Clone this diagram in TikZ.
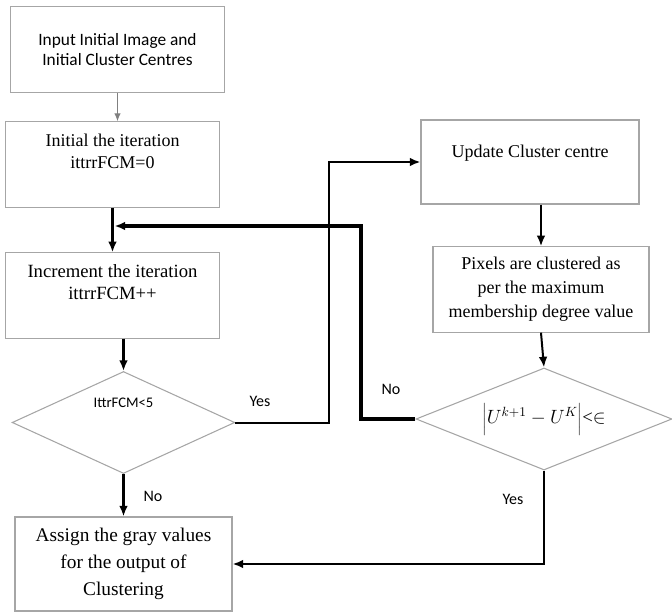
\documentclass[tikz,border=0pt]{standalone}
\usepackage{fontspec}
\setmainfont{Liberation Serif}
\setsansfont{Carlito}
\usetikzlibrary{shapes.geometric,arrows.meta}
\tikzset{
  box/.style={draw=gray!70, line width=0.8pt, minimum width=161pt, minimum height=64pt,
    align=center, font=\fontsize{13.5}{16}\selectfont},
  decision/.style={diamond, draw=gray!70, line width=0.8pt, shape aspect=2.2, inner sep=1pt},
  flow/.style={line width=1.5pt, -{Latex[length=8pt,width=6.5pt]}},
  heavy/.style={flow, line width=2.3pt},
  lbl/.style={font=\sffamily\fontsize{12}{14}\selectfont}
}
\begin{document}
\begin{tikzpicture}[x=0.75pt,y=-0.75pt]
\useasboundingbox (0,0) rectangle (672,613);
% boxes, edit here for the steps
\node[box, font=\sffamily\fontsize{13}{15}\selectfont] (input) at (117.5,49.5) {Input Initial Image and\\Initial Cluster Centres};
\node[box, text depth=20pt] (init) at (112.5,164.5) {Initial the iteration\\ittrrFCM=0};
\node[box, font=\fontsize{14}{16.5}\selectfont, text depth=20pt] (incr) at (112.5,295.5) {Increment the iteration\\ittrrFCM++};
\node[decision, minimum width=167pt, minimum height=76.5pt, font=\sffamily\fontsize{11}{13}\selectfont, text depth=30pt] (check) at (123.5,422.5) {IttrFCM<5};
\node[box, minimum width=163.5pt, minimum height=63pt, text depth=16pt] (update) at (530,162) {Update Cluster centre};
\node[box, minimum width=162pt, font=\fontsize{13.5}{18}\selectfont] (pixels) at (541,289.5) {Pixels are clustered as\\per the maximum\\membership degree value};
\node[decision, minimum width=192pt, minimum height=76.5pt, font=\fontsize{14}{16}\selectfont] (conv) at (544,419) {$\bigg|U^{k+1}-U^{K}\bigg|$<$\in$};
\node[box, minimum width=162.75pt, minimum height=70.5pt, font=\fontsize{14.5}{20}\selectfont] (output) at (123.5,564) {Assign the gray values\\for the output of\\Clustering};
% corners of the loops
\coordinate (yesx) at (329,0);
\coordinate (nox) at (361,226);
% connectors
\draw[gray, line width=1pt, -{Latex[length=6pt,width=5pt]}] (input.south) -- (input.south |- init.north);
\draw[heavy] (init) -- (incr);
\draw[heavy] (incr.south -| check) -- (check);
\draw[flow] (check.east) -| (yesx |- update.west) -- (update.west);
\draw[flow] (update.south -| pixels) -- (pixels.north);
\draw[flow] (pixels.south) -- (conv.north);
\draw[heavy, line width=2.6pt, shorten >=1.5pt] (conv.west) -| (nox) -- (nox -| init.south);
\draw[heavy] (check.south) -- (check.south |- output.north);
\draw[flow] (conv.south) |- (output.east);
% edit here for the Yes / No labels
\node[lbl] (yes1) at (260,401) {Yes};
\node[lbl] (no1) at (153,496) {No};
\node[lbl] (no2) at (391,389) {No};
\node[lbl] (yes2) at (513,499) {Yes};
\end{tikzpicture}
\end{document}
